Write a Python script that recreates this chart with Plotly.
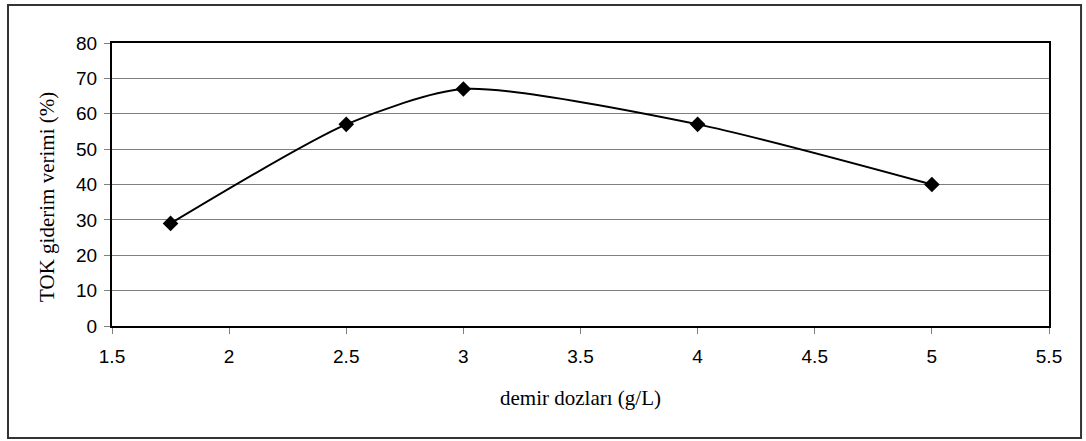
import plotly.graph_objects as go

# Iron dose (g/L) vs. TOC removal efficiency (%)
doses = [1.75, 2.5, 3.0, 4.0, 5.0]
removal = [29, 57, 67, 57, 40]

x_ticks = [1.5, 2, 2.5, 3, 3.5, 4, 4.5, 5, 5.5]
x_tick_text = ["1.5", "2", "2.5", "3", "3.5", "4", "4.5", "5", "5.5"]
y_ticks = [0, 10, 20, 30, 40, 50, 60, 70, 80]

x_title = "demir dozları (g/L)"
y_title = "TOK giderim verimi (%)"

fig = go.Figure()
fig.add_trace(go.Scatter(
    x=doses, y=removal,
    mode="lines+markers",
    line=dict(color="black", width=2, shape="spline", smoothing=0.7),
    marker=dict(symbol="diamond", size=12, color="black"),
    showlegend=False,
    cliponaxis=False,
))

tick_font = dict(family="Liberation Sans, Arial, sans-serif", size=19, color="black")
title_font = dict(family="Liberation Serif, Times New Roman, serif", size=21, color="black")

fig.update_xaxes(
    range=[1.5, 5.5], tickvals=x_ticks, ticktext=x_tick_text,
    showgrid=False, zeroline=False,
    showline=True, linecolor="black", linewidth=2, mirror=True,
    ticks="outside", ticklen=6, tickcolor="#808080", tickwidth=1,
    ticklabelstandoff=6,
    tickfont=tick_font,
    title=dict(text=x_title, font=title_font, standoff=25),
)
fig.update_yaxes(
    range=[0, 80], tickvals=y_ticks,
    showgrid=True, gridcolor="#808080", gridwidth=1, zeroline=False,
    showline=True, linecolor="black", linewidth=2, mirror=True,
    ticks="outside", ticklen=6, tickcolor="#808080", tickwidth=1,
    ticklabelstandoff=3,
    tickfont=tick_font,
)

# Vertical axis title, placed as rotated text left of the tick labels
fig.add_annotation(
    text=y_title, textangle=-90, font=title_font,
    xref="paper", yref="paper", x=-0.0694, y=0.456,
    xanchor="center", yanchor="middle", showarrow=False,
)

# Outer chart frame
fig.add_shape(
    type="rect", xref="paper", yref="paper",
    x0=-0.111, x1=1.0342, y0=-0.3958, y1=1.1343,
    line=dict(color="#333333", width=2), fillcolor="rgba(0,0,0,0)",
    layer="below",
)

fig.update_layout(
    width=1086, height=441,
    margin=dict(l=112, r=37, t=43, b=115),
    paper_bgcolor="white", plot_bgcolor="white",
)

fig.write_html("out.html")
